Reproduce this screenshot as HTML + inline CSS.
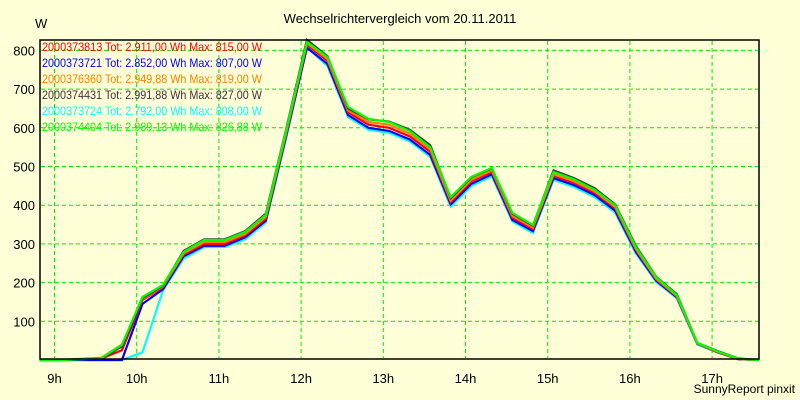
<!DOCTYPE html>
<html><head><meta charset="utf-8"><style>
html,body{margin:0;padding:0;background:#ffffd8;}
svg{display:block;font-family:"Liberation Sans",Arial,sans-serif;}
</style></head><body>
<svg id="chart" width="800" height="400" viewBox="0 0 800 400">
<rect x="0" y="0" width="800" height="400" fill="#ffffd8"/>
<text x="400" y="23" text-anchor="middle" font-size="13">Wechselrichtervergleich vom 20.11.2011</text>
<text x="35" y="28" font-size="13">W</text>
<text x="795" y="393" text-anchor="end" font-size="12">SunnyReport pinxit</text>
<g id="grid"></g>
<g id="series"></g>
<rect x="40" y="40" width="719" height="319" fill="none" stroke="#000" stroke-width="1.5"/>
<g id="axes"></g>
<g id="legend"></g>
</svg>
<script>
const times = [8.82,9.07,9.32,9.57,9.82,10.07,10.32,10.57,10.82,11.07,11.32,11.57,11.82,12.07,12.32,12.57,12.82,13.07,13.32,13.57,13.82,14.07,14.32,14.57,14.82,15.07,15.32,15.57,15.82,16.07,16.32,16.57,16.82,17.07,17.32,17.57];
const cyanVals = [0,0,0,0,0,20,180,262,292,292,312,356,575,808,760,628,595,587,565,525,396,450,475,358,328,465,447,421,381,276,202,160,40,19,2,0];
const blueVals = [0,0,0,0,0,145,183,268,295,295,317,360,580,807,765,633,600,592,570,530,402,455,480,362,333,470,452,426,386,280,205,162,42,20,2,0];
const redVals = [0,0,2,4,25,155,188,272,300,300,322,365,585,815,773,640,608,600,578,538,408,462,486,368,338,476,458,432,392,285,208,164,42,20,2,0];
const orangeVals = [0,0,3,6,40,158,190,276,305,305,326,370,590,819,778,645,615,608,585,545,412,466,490,372,342,480,462,436,396,288,210,166,43,21,3,0];
const darkVals = [0,0,2,5,35,160,192,282,312,312,333,378,598,827,785,650,622,616,595,555,418,472,495,378,347,490,470,444,402,295,215,170,44,23,4,0];
const greenVals = [0,0,2,5,39,163,194,279,310,310,331,375,595,822,783,654,623,615,592,550,421,473,496,380,349,486,467,440,400,292,214,168,44,22,3,0];
const yTicks = [100,200,300,400,500,600,700,800];
const xTicks = [9,10,11,12,13,14,15,16,17];
const legendLabels = ["2000373813 Tot: 2.911,00 Wh Max: 815,00 W","2000373721 Tot: 2.852,00 Wh Max: 807,00 W","2000376360 Tot: 2.949,88 Wh Max: 819,00 W","2000374431 Tot: 2.991,88 Wh Max: 827,00 W","2000373724 Tot: 2.792,00 Wh Max: 808,00 W","2000374404 Tot: 2.989,13 Wh Max: 826,88 W"];

const NS="http://www.w3.org/2000/svg";
function x(h){return 136.7+(h-10)*82.2;}
function y(v){return 360-v*0.387;}
function mk(tag,attrs,parent){const e=document.createElementNS(NS,tag);for(const k in attrs)e.setAttribute(k,attrs[k]);parent.appendChild(e);return e;}
const grid=document.getElementById('grid'),axes=document.getElementById('axes'),ser=document.getElementById('series'),leg=document.getElementById('legend');
yTicks.forEach(v=>{
  const l=mk('line',{x1:41,x2:758,y1:y(v),y2:y(v),stroke:'#00ee00','stroke-dasharray':'4,3','stroke-width':1},grid);
  
  
  const t=mk('text',{x:35,y:y(v)+5,'text-anchor':'end','font-size':13},axes);
  t.textContent=v;
  
  
});
xTicks.forEach(h=>{
  const l=mk('line',{x1:x(h),x2:x(h),y1:41,y2:358,stroke:'#00ee00','stroke-dasharray':'4,3','stroke-width':1},grid);
  
  
  const t=mk('text',{x:x(h),y:383,'text-anchor':'middle','font-size':13},axes);
  t.textContent=h+'h';
  
  
});
const seriesList=[[cyanVals,'#00ffff','series-2000373724'],[blueVals,'#0000ff','series-2000373721'],[redVals,'#ff0000','series-2000373813'],[orangeVals,'#ff8000','series-2000376360'],[darkVals,'#403040','series-2000374431'],[greenVals,'#00ff00','series-2000374404']];
seriesList.forEach(s=>{
  const pts=s[0].map((v,i)=>x(times[i]).toFixed(1)+','+y(v).toFixed(1)).join(' ');
  const p=mk('polyline',{points:pts,fill:'none',stroke:s[1],'stroke-width':2.2,'stroke-linejoin':'miter'},ser);
  
  
});
const legColors=['#ff0000','#0000ff','#ff8000','#403040','#00ffff','#00ff00'];
legendLabels.forEach((txt,i)=>{
  const t=mk('text',{x:42,y:51+i*16,'font-size':12,fill:legColors[i],textLength:220,lengthAdjust:'spacingAndGlyphs'},leg);
  t.textContent=txt;
  
  
});
</script>
</body></html>
